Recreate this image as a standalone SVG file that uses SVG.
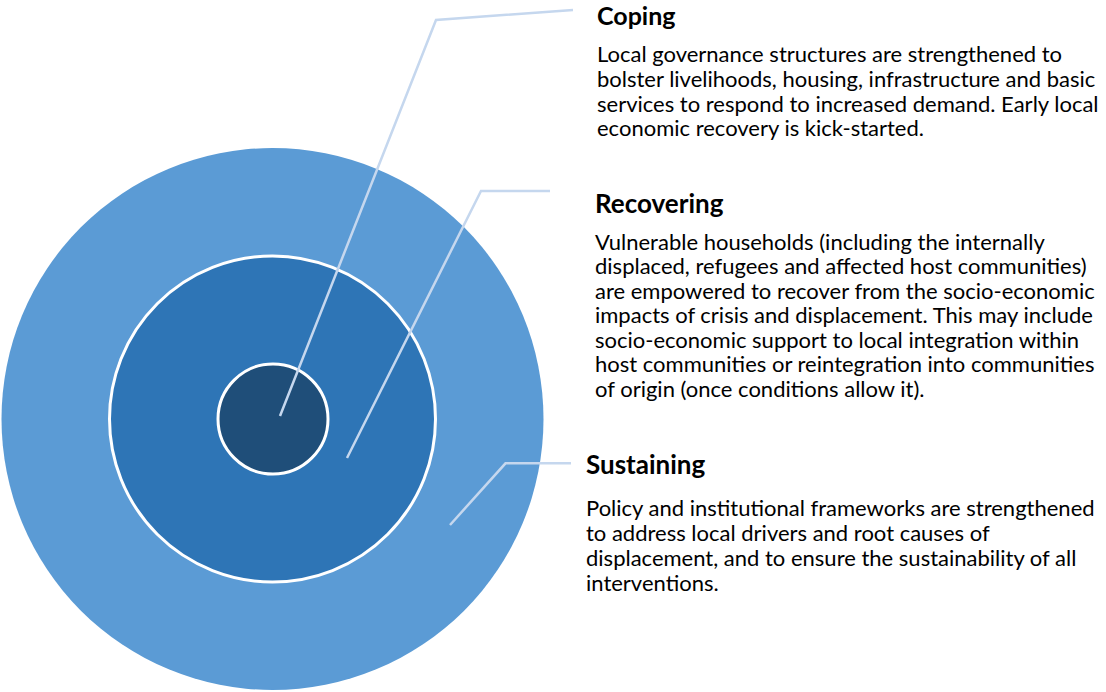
<svg xmlns="http://www.w3.org/2000/svg" width="1106" height="692" viewBox="0 0 1106 692">
<style>
.title{font-family:Lato,"Liberation Sans",sans-serif;font-weight:bold;font-size:26px;fill:#000}
.body{font-family:Lato,"Liberation Sans",sans-serif;font-size:22px;fill:#000}
.leader{fill:none;stroke:#c5d7ee;stroke-width:2.5;stroke-linejoin:miter}
.ring{stroke:#fff;stroke-width:3}
</style>
<rect width="1106" height="692" fill="#fff"/>
<g id="sustaining-circle"><circle cx="272.5" cy="419" r="271" fill="#5b9bd5"/></g>
<g id="recovering-circle"><circle class="ring" cx="272.5" cy="419" r="163" fill="#2e75b6"/></g>
<g id="coping-circle"><circle class="ring" cx="273" cy="419" r="55" fill="#1f4e79"/></g>
<g id="connectors">
<polyline class="leader" points="280,416 436,20 573,10"/>
<polyline class="leader" points="347,458 481,191 550,191"/>
<polyline class="leader" points="450,525 505.5,463.3 571,463.3"/>
</g>
<g id="coping">
<text class="title" x="597" y="25" style="font-size:25px">Coping</text>
<text class="body" x="597" y="62">Local governance structures are strengthened to</text>
<text class="body" x="597" y="87">bolster livelihoods, housing, infrastructure and basic</text>
<text class="body" x="597" y="111.5">services to respond to increased demand. Early local</text>
<text class="body" x="597" y="136">economic recovery is kick-started.</text>
</g>
<g id="recovering">
<text class="title" x="595" y="213">Recovering</text>
<text class="body" x="595" y="249.5">Vulnerable households (including the internally</text>
<text class="body" x="595" y="274">displaced, refugees and affected host communities)</text>
<text class="body" x="595" y="298.5">are empowered to recover from the socio-economic</text>
<text class="body" x="595" y="323">impacts of crisis and displacement. This may include</text>
<text class="body" x="595" y="347.5">socio-economic support to local integration within</text>
<text class="body" x="595" y="372">host communities or reintegration into communities</text>
<text class="body" x="595" y="396.5">of origin (once conditions allow it).</text>
</g>
<g id="sustaining">
<text class="title" x="586" y="474">Sustaining</text>
<text class="body" x="586" y="516">Policy and institutional frameworks are strengthened</text>
<text class="body" x="586" y="541">to address local drivers and root causes of</text>
<text class="body" x="586" y="566">displacement, and to ensure the sustainability of all</text>
<text class="body" x="586" y="591">interventions.</text>
</g>
</svg>
